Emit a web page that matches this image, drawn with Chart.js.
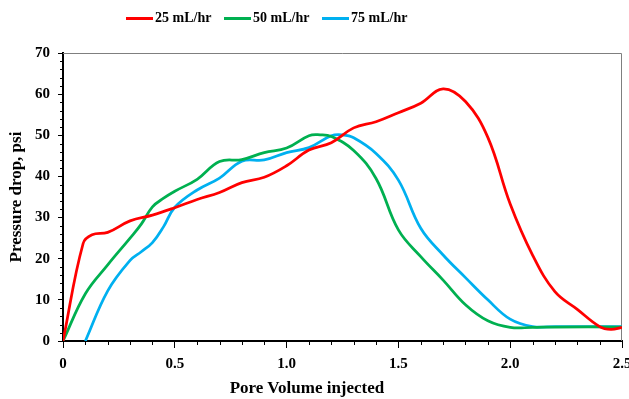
<!DOCTYPE html>
<html>
<head>
<meta charset="utf-8">
<script src="https://cdn.jsdelivr.net/npm/chart.js@4"></script>
<style>
  html, body { margin: 0; padding: 0; background: #fff; }
  #wrap { position: relative; width: 629px; height: 399px; }
  #legend { position: absolute; top: 10px; left: 0; width: 629px; height: 20px; font: bold 14px "Liberation Serif", serif; }
  .item { position: absolute; top: 0; display: flex; align-items: center; }
  .swatch { width: 27px; height: 3px; margin-right: 2px; }
  #xtitle { position: absolute; top: 378px; left: 0; width: 614px; text-align: center; font: bold 17px "Liberation Serif", serif; }
</style>
</head>
<body>
<div id="wrap">
  <canvas id="chart" width="629" height="399"></canvas>
  <div id="legend"></div>
  <div id="xtitle">Pore Volume injected</div>
</div>
<script>
const seriesLabels = ['25 mL/hr', '50 mL/hr', '75 mL/hr'];
const seriesColors = ['#FF0000', '#00B050', '#00B0F0'];

const pv25 = [0, 0.09, 0.13, 0.2, 0.3, 0.4, 0.5, 0.6, 0.7, 0.8, 0.9, 1.0, 1.1, 1.2, 1.3, 1.4, 1.5, 1.6, 1.7, 1.8, 1.9, 2.0, 2.1, 2.2, 2.3, 2.4, 2.45, 2.5];
const dp25 = [0, 23.7, 25.8, 26.4, 29.2, 30.6, 32.4, 34.4, 36.1, 38.5, 39.8, 42.6, 46.4, 48.2, 51.8, 53.3, 55.5, 57.8, 61.3, 58.2, 49.5, 33.3, 20.9, 12.0, 7.7, 3.5, 2.8, 3.3];

const pv50 = [0, 0.1, 0.2, 0.3, 0.35, 0.4, 0.45, 0.5, 0.6, 0.7, 0.8, 0.9, 1.0, 1.1, 1.15, 1.2, 1.3, 1.4, 1.5, 1.6, 1.7, 1.8, 1.9, 2.0, 2.1, 2.2, 2.5];
const dp50 = [0, 11.5, 18.5, 25.0, 28.4, 32.6, 34.7, 36.4, 39.3, 43.6, 44.1, 45.8, 46.9, 49.9, 50.1, 49.7, 46.3, 39.5, 27.0, 20.5, 14.8, 8.8, 4.9, 3.3, 3.3, 3.4, 3.4];

const pv75 = [0.1, 0.2, 0.3, 0.35, 0.4, 0.45, 0.5, 0.6, 0.7, 0.8, 0.9, 1.0, 1.1, 1.2, 1.25, 1.3, 1.4, 1.5, 1.6, 1.7, 1.8, 1.9, 2.0, 2.1, 2.2, 2.5];
const dp75 = [0, 12.2, 19.6, 21.7, 23.9, 27.8, 32.5, 36.7, 39.6, 43.7, 44.0, 45.8, 47.0, 49.9, 50.1, 49.4, 45.6, 39.1, 27.4, 20.9, 15.4, 10.0, 5.3, 3.5, 3.5, 3.5];

const legendLeft = [126, 224, 322];

function toPoints(xs, ys) {
    return xs.map((x, i) => ({ x: x, y: ys[i] }));
}

// html legend
const legendEl = document.getElementById('legend');
seriesLabels.forEach((label, i) => {
    const item = document.createElement('div');
    item.className = 'item';
    item.style.left = legendLeft[i] + 'px';
    item.innerHTML = '<span class="swatch" style="background:' + seriesColors[i] + '"></span><span>' + label + '</span>';
    legendEl.appendChild(item);
});

// gray frame on top/right plus minor ticks
const framePlugin = {
    id: 'frame',
    beforeDatasetsDraw(chart) {
        const a = chart.chartArea;
        const ctx = chart.ctx;
        ctx.save();
        ctx.strokeStyle = '#7f7f7f';
        ctx.lineWidth = 1;
        ctx.beginPath();
        ctx.moveTo(a.left, a.top + 0.5);
        ctx.lineTo(a.right - 0.5, a.top + 0.5);
        ctx.lineTo(a.right - 0.5, a.bottom);
        ctx.stroke();
        ctx.restore();
    },
    afterDraw(chart) {
        const ctx = chart.ctx;
        const xs = chart.scales.x;
        const ys = chart.scales.y;
        ctx.save();
        ctx.strokeStyle = '#000';
        ctx.lineWidth = 1;
        ctx.beginPath();
        for (let i = 1; i < 25; i++) {
            if (i % 5 === 0) continue;
            const px = Math.round(xs.getPixelForValue(i / 10)) + 0.5;
            ctx.moveTo(px, ys.bottom);
            ctx.lineTo(px, ys.bottom + 4);
        }
        for (let v = 2; v < 70; v += 2) {
            if (v % 10 === 0) continue;
            const py = Math.round(ys.getPixelForValue(v)) + 0.5;
            ctx.moveTo(xs.left - 3, py);
            ctx.lineTo(xs.left, py);
        }
        ctx.stroke();
        ctx.restore();
    }
};

const tickFont = { family: 'Liberation Serif', size: 15, weight: 'bold' };

new Chart(document.getElementById('chart'), {
    type: 'line',
    data: {
        datasets: seriesLabels.map((label, i) => ({
            label: label,
            data: toPoints([pv25, pv50, pv75][i], [dp25, dp50, dp75][i]),
            borderColor: seriesColors[i],
            backgroundColor: seriesColors[i],
            borderWidth: 2.75,
            pointRadius: 0,
            fill: false,
            tension: 0.4
        }))
    },
    options: {
        responsive: false,
        animation: false,
        layout: { padding: { left: 0, right: 7, top: 53, bottom: 0 } },
        plugins: {
            legend: { display: false },
            tooltip: { enabled: false }
        },
        scales: {
            x: {
                type: 'linear',
                min: 0,
                max: 2.5,
                ticks: {
                    stepSize: 0.5,
                    color: '#000',
                    font: tickFont,
                    padding: 7,
                    maxRotation: 0
                },
                grid: { drawOnChartArea: false, tickLength: 7, color: '#000' },
                border: { color: '#000', width: 2 },
                afterFit(scale) {
                    scale.height = 58;
                    scale.paddingLeft = 0;
                    scale.paddingRight = 0;
                }
            },
            y: {
                min: 0,
                max: 70,
                ticks: {
                    stepSize: 10,
                    color: '#000',
                    font: tickFont,
                    padding: 8
                },
                grid: { drawOnChartArea: false, tickLength: 5, color: '#000' },
                border: { color: '#000', width: 2 },
                title: {
                    display: true,
                    text: 'Pressure drop, psi',
                    color: '#000',
                    font: { family: 'Liberation Serif', size: 17, weight: 'bold' },
                    padding: { top: 6, bottom: 0 }
                },
                afterFit(scale) {
                    scale.width = 63;
                }
            }
        }
    },
    plugins: [framePlugin]
});
</script>
</body>
</html>
